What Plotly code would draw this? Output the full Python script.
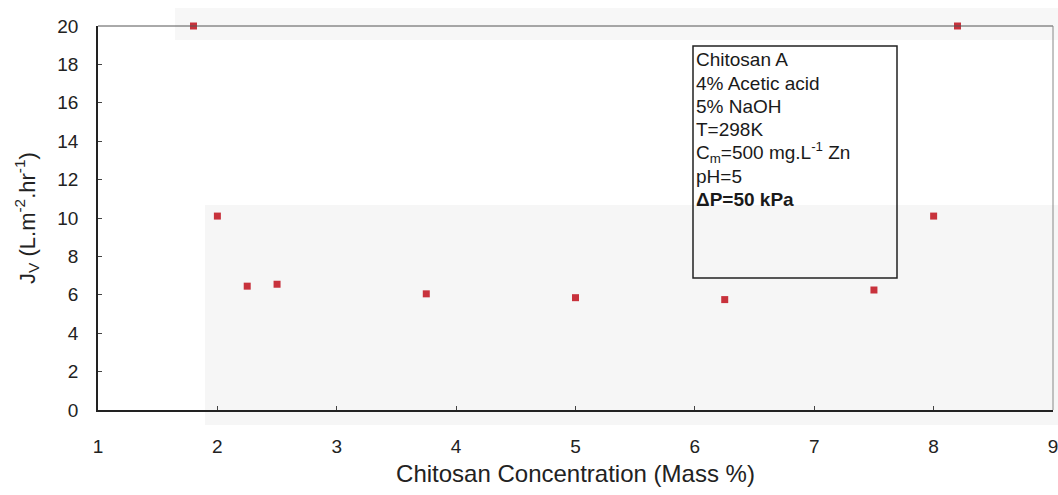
import plotly.graph_objects as go

# Data
conc = [1.8, 2.0, 2.25, 2.5, 3.75, 5.0, 6.25, 7.5, 8.0, 8.2]
flux = [20.0, 10.1, 6.45, 6.55, 6.05, 5.85, 5.75, 6.25, 10.1, 20.0]
x_ticks = [1, 2, 3, 4, 5, 6, 7, 8, 9]
y_ticks = [0, 2, 4, 6, 8, 10, 12, 14, 16, 18, 20]
box_lines = ["Chitosan A", "4% Acetic acid", "5% NaOH", "T=298K",
             "C<sub>m</sub>=500 mg.L<sup>-1</sup> Zn", "pH=5", "<b>ΔP=50 kPa</b>"]

FONT = "Liberation Sans, Arial, sans-serif"
L, R, T, B = 98, 5, 26, 85
W, H = 1058, 495
PW, PH = W - L - R, H - T - B


def px(xp):
    return (xp - L) / PW


def py(yp):
    return (H - B - yp) / PH


fig = go.Figure()

# faint scan shading (background decoration)
fig.add_shape(type="rect", xref="paper", yref="paper", x0=px(205), x1=1.01, y0=py(425), y1=py(205),
              fillcolor="#f6f6f6", line_width=0, layer="below")
fig.add_shape(type="rect", xref="paper", yref="paper", x0=px(175), x1=1.01, y0=py(40), y1=py(8),
              fillcolor="#f7f7f7", line_width=0, layer="below")

fig.add_trace(go.Scatter(
    x=conc, y=flux, mode="markers",
    marker=dict(symbol="square", size=7, color="#c8323c"),
    showlegend=False, cliponaxis=False))

# top and right frame (lighter)
fig.add_shape(type="line", xref="paper", yref="paper", x0=0, x1=1, y0=1, y1=1,
              line=dict(color="#555555", width=1))
fig.add_shape(type="line", xref="paper", yref="paper", x0=1, x1=1, y0=0, y1=1,
              line=dict(color="#888888", width=1))

# annotation box
fig.add_shape(type="rect", xref="paper", yref="paper",
              x0=px(693), x1=px(897), y0=py(278), y1=py(46),
              line=dict(color="#222222", width=1.5), fillcolor="rgba(0,0,0,0)")
for i, line in enumerate(box_lines):
    fig.add_annotation(xref="paper", yref="paper", x=px(694), y=py(60 + 23.2 * i),
                       xanchor="left", yanchor="middle", align="left", showarrow=False,
                       text=line, font=dict(family=FONT, size=19, color="#1a1a1a"))

fig.update_xaxes(range=[1, 9], tickvals=x_ticks, ticks="inside", ticklen=4,
                 showline=True, linecolor="#222222", linewidth=1.5, automargin=False,
                 showgrid=False, zeroline=False, ticklabelstandoff=18,
                 ticklabeloverflow="allow",
                 tickfont=dict(family=FONT, size=19, color="#222222"),
                 title=dict(text="Chitosan Concentration (Mass %)", standoff=10,
                            font=dict(family=FONT, size=24, color="#222222")))
fig.update_yaxes(range=[0, 20], tickvals=y_ticks, ticks="inside", ticklen=4,
                 showline=True, linecolor="#222222", linewidth=1.5, automargin=False,
                 showgrid=False, zeroline=False, ticklabelstandoff=14,
                 tickfont=dict(family=FONT, size=19, color="#222222"),
                 title=dict(text="J<sub>V</sub> (L.m<sup>-2</sup>.hr<sup>-1</sup>)", standoff=16,
                            font=dict(family=FONT, size=22, color="#222222")))

fig.update_layout(width=W, height=H, margin=dict(l=L, r=R, t=T, b=B),
                  plot_bgcolor="white", paper_bgcolor="white")

fig.write_html("out.html", config={"displayModeBar": False},
               post_script="document.body.style.margin='0';")
